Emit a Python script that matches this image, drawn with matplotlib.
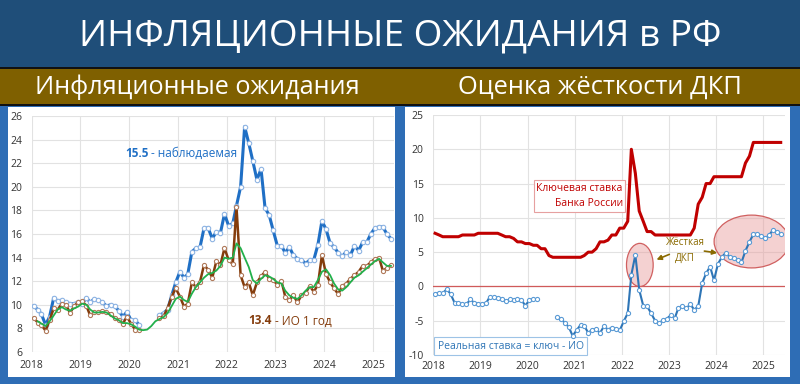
import numpy as np
import pandas as pd
import matplotlib
matplotlib.use('Agg')
import matplotlib.pyplot as plt
import matplotlib.dates as mdates
from matplotlib.patches import Rectangle, Ellipse

plt.rcParams['font.family'] = ['Open Sans', 'DejaVu Sans']
plt.rcParams['axes.unicode_minus'] = False

nan = np.nan

# monthly points, Jan 2018 .. May 2025 (plotted mid-month)
months = pd.date_range('2018-01-01', periods=89, freq='MS') + pd.Timedelta(days=14)

# left chart: observed inflation, 1y expectations, smoothed expectations
observed = [9.9, 9.6, 9.2, 8.3, 9.0, 10.6, 10.3, 10.4, 10.2, 10.1, 10.1, 10.2,
            10.1, 10.6, 10.2, 10.5, 10.4, 10.2, 9.9, 10.0, 9.9, 9.5, 9.0, 9.4,
            8.7, 8.7, 8.3, nan, nan, nan, nan, 9.1, 9.3, 9.6, 10.8, 11.9,
            12.8, 12.3, 12.6, 14.5, 14.8, 14.9, 16.5, 16.5, 15.6, 16.2, 16.1, 17.7,
            16.7, 16.9, 18.4, 20.0, 25.1, 23.7, 22.2, 20.6, 21.5, 18.2, 17.6, 16.3,
            15.0, 15.0, 14.4, 14.9, 14.2, 13.9, 13.8, 13.5, 13.8, 13.8, 15.1, 17.1,
            16.4, 15.2, 14.9, 14.4, 14.1, 14.5, 14.2, 15.0, 14.6, 15.3, 15.3, 16.0,
            16.5, 16.6, 16.6, 16.0, 15.6]
expect_1y = [8.9, 8.5, 8.3, 7.8, 8.7, 9.7, 9.6, 10.1, 10.0, 9.3, 9.9, 10.2,
             10.3, 9.9, 9.1, 9.35, 9.35, 9.5, 9.4, 9.2, 8.9, 8.7, 8.4, 9.0,
             8.4, 7.9, 7.9, nan, nan, nan, nan, 8.85, 9.05, 9.7, 10.7, 11.4,
             10.7, 9.85, 10.1, 11.9, 11.5, 11.95, 13.4, 12.95, 12.3, 13.7, 13.4, 14.8,
             13.8, 13.45, 18.3, 12.5, 11.5, 11.9, 10.8, 11.9, 12.4, 12.8, 12.2, 12.1,
             11.7, 12.0, 10.7, 10.4, 10.8, 10.2, 10.8, 11.0, 11.6, 11.1, 11.7, 14.2,
             12.6, 11.9, 11.4, 10.9, 11.6, 11.8, 12.2, 12.5, 12.8, 13.3, 13.3, 13.6,
             13.9, 14.0, 12.9, 13.1, 13.4]
expect_smooth = [nan, 8.6, 8.4, 8.2, 8.6, 9.1, 9.6, 9.8, 9.6, 9.5, 9.7, 9.85,
                 10.1, 10.0, 9.6, 9.35, 9.35, 9.4, 9.35, 9.1, 8.85, 8.7, 8.45, 8.45,
                 8.35, 8.15, 7.9, 7.85, 7.9, 8.2, 8.6, 8.8, 8.95, 9.3, 9.9, 10.5,
                 10.7, 10.4, 10.25, 10.95, 11.5, 11.9, 12.3, 12.6, 12.7, 12.9, 13.3, 14.0,
                 13.9, 14.0, 15.2, 14.8, 14.0, 13.2, 12.1, 11.8, 12.2, 12.5, 12.4, 12.2,
                 11.9, 11.8, 11.2, 10.8, 10.6, 10.5, 10.8, 11.2, 11.5, 11.5, 12.1, 12.8,
                 13.0, 12.5, 11.8, 11.3, 11.2, 11.5, 11.9, 12.3, 12.5, 12.8, 13.1, 13.4,
                 13.7, 13.9, 13.6, 13.3, 13.3]

# right chart: key rate and real rate
key_rate = [7.75, 7.5, 7.25, 7.25, 7.25, 7.25, 7.25, 7.5, 7.5, 7.5, 7.5, 7.75,
            7.75, 7.75, 7.75, 7.75, 7.75, 7.5, 7.25, 7.25, 7.0, 6.5, 6.5, 6.25,
            6.25, 6.0, 6.0, 5.5, 5.5, 4.5, 4.25, 4.25, 4.25, 4.25, 4.25, 4.25,
            4.25, 4.25, 4.5, 5.0, 5.0, 5.5, 6.5, 6.5, 6.75, 7.5, 7.5, 8.5,
            8.5, 9.5, 20.0, 16.5, 11.0, 9.5, 8.0, 8.0, 7.5, 7.5, 7.5, 7.5,
            7.5, 7.5, 7.5, 7.5, 7.5, 7.5, 8.5, 12.0, 13.0, 15.0, 15.0, 16.0,
            16.0, 16.0, 16.0, 16.0, 16.0, 16.0, 16.0, 18.0, 19.0, 21.0, 21.0, 21.0,
            21.0, 21.0, 21.0, 21.0, 21.0]
real_rate = [-1.1, -0.9, -1.0, -0.4, -1.1, -2.4, -2.4, -2.6, -2.6, -1.9, -2.4, -2.5,
             -2.6, -2.4, -1.5, -1.6, -1.7, -1.9, -2.1, -1.9, -2.0, -1.9, -2.0, -2.8,
             -2.0, -1.9, -1.9, nan, nan, nan, nan, -4.5, -4.7, -5.3, -5.9, -7.2,
             -6.4, -5.6, -5.7, -6.8, -6.3, -6.2, -6.8, -5.8, -6.3, -6.0, -6.2, -6.4,
             -5.1, -3.9, 1.7, 4.6, -0.5, -2.8, -2.9, -3.9, -5.0, -5.4, -4.9, -4.7,
             -4.2, -4.6, -3.1, -2.9, -3.2, -2.6, -3.4, -2.9, 0.5, 1.9, 2.9, 0.9,
             3.3, 4.3, 4.9, 4.3, 4.1, 3.8, 3.5, 5.2, 6.5, 7.6, 7.7, 7.3,
             7.0, 7.5, 8.2, 8.0, 7.6]

year_ticks = pd.date_range('2018-01-01', '2025-01-01', freq='YS')
year_labels = [str(d.year) for d in year_ticks]
left_yticks = np.arange(6, 27, 2)
right_yticks = np.arange(-10, 26, 5)

title = 'ИНФЛЯЦИОННЫЕ ОЖИДАНИЯ в РФ'
sub_left = 'Инфляционные ожидания'
sub_right = 'Оценка жёсткости ДКП'

W, H = 800, 384
fig = plt.figure(figsize=(W / 100, H / 100), dpi=100, facecolor='#2E6DB5')


def px_rect(x0, y0, x1, y1):
    return [x0 / W, 1 - y1 / H, (x1 - x0) / W, (y1 - y0) / H]


def band(x0, y0, x1, y1, color):
    l, b, w, h = px_rect(x0, y0, x1, y1)
    fig.add_artist(Rectangle((l, b), w, h, transform=fig.transFigure,
                             facecolor=color, edgecolor='none', zorder=-5))


def yr(v):
    return pd.Timestamp('2018-01-01') + pd.Timedelta(days=(v - 2018) * 365.25)


def fit_width(txt, width_px):
    fig.canvas.draw()
    bb = txt.get_window_extent()
    txt.set_fontsize(txt.get_fontsize() * width_px / bb.width)


# background bands and white panels
band(0, 0, W, 67, '#1F4E79')
band(0, 67, W, 69, '#111111')
band(0, 69, W, 104, '#7F6000')
band(0, 104, W, 106, '#111111')
band(8, 107, 395, 377, 'white')
band(405, 107, 790, 377, 'white')

t = fig.text(0.5, 1 - 36 / H, title, color='white', ha='center', va='center', fontsize=24)
fit_width(t, 644)
t = fig.text(197 / W, 1 - 87 / H, sub_left, color='white', ha='center', va='center', fontsize=15)
fit_width(t, 325)
t = fig.text(600 / W, 1 - 87 / H, sub_right, color='white', ha='center', va='center', fontsize=15)
fit_width(t, 284)


def style(ax, yticks, ylim, xend, xpad):
    ax.set_facecolor('none')
    for s in ax.spines.values():
        s.set_visible(False)
    ax.set_xlim(pd.Timestamp('2018-01-01'), xend)
    ax.set_ylim(*ylim)
    ax.set_xticks(year_ticks)
    ax.set_xticklabels(year_labels)
    ax.set_yticks(yticks)
    ax.grid(True, color='#E2E2E2', lw=0.8)
    ax.set_axisbelow(True)
    ax.tick_params(axis='both', length=0, labelsize=7.5, colors='#333333')
    ax.tick_params(axis='y', pad=7)
    ax.tick_params(axis='x', pad=xpad)


# left chart
ax1 = fig.add_axes(px_rect(31.7, 116, 393.5, 352))
style(ax1, left_yticks, (6, 26), yr(2025.42), 5.5)
ax1.plot(months, observed, color='#1F6FC5', lw=2.2, marker='o', ms=3.2,
         mfc='white', mec='#8EB4E3', mew=0.8, zorder=3)
ax1.plot(months, expect_1y, color='#843C0C', lw=1.8, marker='o', ms=3.0,
         mfc='white', mec='#B07A5A', mew=0.8, zorder=4)
ax1.plot(months, expect_smooth, color='#22B04B', lw=1.3, zorder=5)

t1 = ax1.text(yr(2019.91), 22.84, '15.5', color='#1F6FC5', fontsize=8.5,
              weight='bold', va='center')
ax1.annotate(' - наблюдаемая', xy=(1, 0.5), xycoords=t1, va='center',
             color='#1F6FC5', fontsize=8.5)
t2 = ax1.text(yr(2022.44), 8.63, '13.4', color='#843C0C', fontsize=8.5,
              weight='bold', va='center')
ax1.annotate(' - ИО 1 год', xy=(1, 0.5), xycoords=t2, va='center',
             color='#843C0C', fontsize=8.5)

# right chart
ax2 = fig.add_axes(px_rect(433.3, 115, 784.6, 355))
style(ax2, right_yticks, (-10, 25), yr(2025.45), 4)
ax2.axhline(0, color='#D05A5A', lw=0.9, zorder=2)
for cx, cy, w, h in [(2022.38, 3.13, 0.566, 6.3), (2024.75, 6.55, 1.59, 7.7)]:
    ax2.add_patch(Ellipse((mdates.date2num(yr(cx)), cy), w * 365.25, h,
                          facecolor=(0.91, 0.6, 0.6, 0.45), edgecolor='#D06060',
                          lw=0.9, zorder=2))
ax2.plot(months, key_rate, color='#C00000', lw=2.2, zorder=3)
ax2.plot(months, real_rate, color='#2E75B6', lw=1.5, marker='o', ms=3.0,
         mfc='white', mec='#5B9BD5', mew=0.8, zorder=4)

ax2.text(yr(2022.02), 13.2, 'Ключевая ставка\nБанка России', color='#C00000',
         fontsize=7.5, ha='right', va='center', multialignment='right', linespacing=1.5,
         bbox=dict(boxstyle='square,pad=0.25', facecolor='white', edgecolor='#E6A0A0', lw=0.8))
ax2.text(yr(2018.09), -8.69, 'Реальная ставка = ключ - ИО', color='#2E75B6',
         fontsize=7.5, ha='left', va='center',
         bbox=dict(boxstyle='square,pad=0.3', facecolor='white', edgecolor='#9DC3E6', lw=0.8))
ax2.text(yr(2023.34), 5.2, 'Жёсткая\nДКП', color='#8A6A00', fontsize=7,
         ha='center', va='center', linespacing=1.6)
arrow = dict(arrowstyle='-|>', color='#8A6A00', lw=1.2, mutation_scale=7)
ax2.annotate('', xy=(yr(2022.68), 3.75), xytext=(yr(2023.06), 4.83), arrowprops=arrow)
ax2.annotate('', xy=(yr(2024.08), 4.83), xytext=(yr(2023.69), 5.21), arrowprops=arrow)

fig.savefig('out.png', dpi=100, facecolor=fig.get_facecolor())
